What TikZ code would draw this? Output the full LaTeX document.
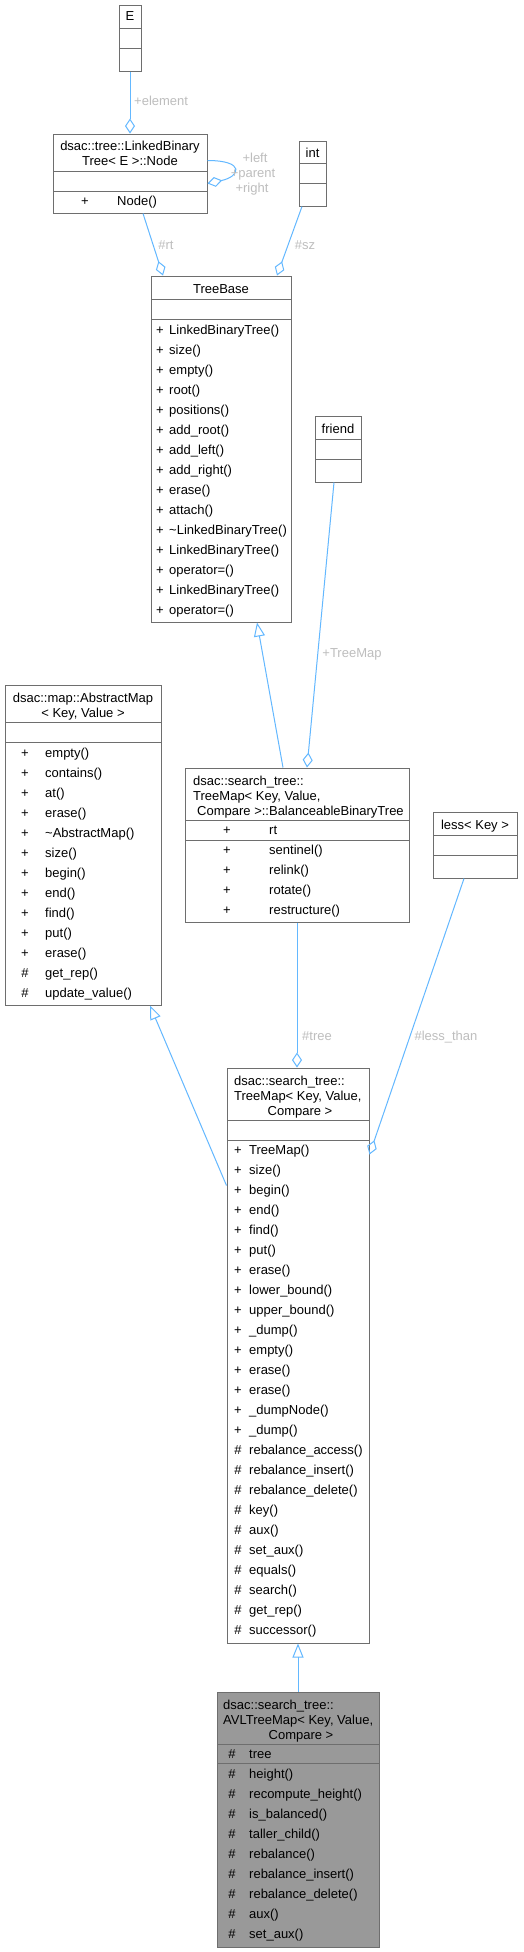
\documentclass[tikz,border=0pt]{standalone}
\usepackage{fontspec}
\setmainfont{Liberation Sans}
\usetikzlibrary{arrows.meta}
\definecolor{edgeblue}{HTML}{63B8FF}
\definecolor{boxgray}{HTML}{6E6E6E}
\definecolor{labgray}{HTML}{BEBEBE}
\definecolor{avlfill}{HTML}{999999}
\tikzset{
 umlbox/.style={draw=boxgray, line width=1pt, inner sep=0pt},
 sepline/.style={draw=boxgray, line width=1pt},
 txt/.style={inner sep=0pt, font=\fontsize{13}{15}\selectfont, text height=9.5pt, text depth=2.5pt},
 lab/.style={txt, text=labgray},
 agg/.style={draw=edgeblue, line width=1pt, -{Diamond[open,length=15pt,width=10pt]}},
 inh/.style={draw=edgeblue, line width=1pt, -{Triangle[open,length=14pt,width=11pt]}},
}
\newcommand\umlclass[8][white]{%
 \node[umlbox, fill=#1, minimum width={(#5-#3)*1pt}, minimum height={(#6-#4)*1pt}] (#2) at ({(#3+#5)/2},{(#4+#6)/2}) {};
 \draw[sepline] (#3,#7) -- (#5,#7);
 \draw[sepline] (#3,#8) -- (#5,#8);
}
\begin{document}
\begin{tikzpicture}[x=1pt,y=-1pt]
\useasboundingbox[fill=white] (0,0) rectangle (524,1952);

% ---------- classes ----------
\umlclass{clsE}{119}{5}{141}{71}{28}{48}
\node[txt] (tE) at (130,17) {E};

\umlclass{clsNode}{53}{134}{207}{213}{171}{191}
\node[txt] (tNode1) at (130,147) {dsac::tree::LinkedBinary};
\node[txt] (tNode2) at (130,162) {Tree< E >::Node};
\node[txt] (sNode) at (85,202) {+};
\node[txt,anchor=west] (mNode) at (117,202) {Node()};

\umlclass{clsInt}{299}{141}{326}{206}{163}{183}
\node[txt] (tInt) at (312.5,154) {int};

\umlclass{clsTreeBase}{151}{276}{291}{622}{299}{319}
\node[txt] (tTB) at (221,290) {TreeBase};
\foreach \t [count=\i from 0] in {LinkedBinaryTree(), size(), empty(), root(), positions(), add\_root(), add\_left(), add\_right(), erase(), attach(), \textasciitilde LinkedBinaryTree(), LinkedBinaryTree(), operator=(), LinkedBinaryTree(), operator=()}{
 \node[txt] (sTB\i) at (160,{331+20*\i}) {+};
 \node[txt,anchor=west] (mTB\i) at (169,{331+20*\i}) {\t};
}

\umlclass{clsFriend}{315}{416}{361}{482}{439}{459}
\node[txt] (tFriend) at (338,430) {friend};

\umlclass{clsAbsMap}{5}{685}{161}{1005}{722}{742}
\node[txt] (tAM1) at (83,699) {dsac::map::AbstractMap};
\node[txt] (tAM2) at (83,714) {< Key, Value >};
\foreach \s/\t [count=\i from 0] in {+/empty(), +/contains(), +/at(), +/erase(), +/\textasciitilde AbstractMap(), +/size(), +/begin(), +/end(), +/find(), +/put(), +/erase(), \#/get\_rep(), \#/update\_value()}{
 \node[txt] (sAM\i) at (25,{754+20*\i}) {\s};
 \node[txt,anchor=west] (mAM\i) at (45,{754+20*\i}) {\t};
}

\umlclass{clsBBT}{185}{768}{409}{922}{820}{840}
\node[txt,anchor=west] (tBBT1) at (193,782) {dsac::search\_tree::};
\node[txt,anchor=west] (tBBT2) at (193,797) {TreeMap< Key, Value,};
\node[txt,anchor=west] (tBBT3) at (197,812) {Compare >::BalanceableBinaryTree};
\node[txt] (sBBTa) at (227,831) {+};
\node[txt,anchor=west] (mBBTa) at (269,831) {rt};
\foreach \t [count=\i from 0] in {sentinel(), relink(), rotate(), restructure()}{
 \node[txt] (sBBT\i) at (227,{851+20*\i}) {+};
 \node[txt,anchor=west] (mBBT\i) at (269,{851+20*\i}) {\t};
}

\umlclass{clsLess}{433}{812}{517}{878}{835}{855}
\node[txt] (tLess) at (475,826) {less< Key >};

\umlclass{clsTreeMap}{227}{1068}{369}{1643}{1120}{1140}
\node[txt,anchor=west] (tTM1) at (234,1082) {dsac::search\_tree::};
\node[txt,anchor=west] (tTM2) at (234,1097) {TreeMap< Key, Value,};
\node[txt] (tTM3) at (300,1112) {Compare >};
\foreach \s/\t [count=\i from 0] in {+/TreeMap(), +/size(), +/begin(), +/end(), +/find(), +/put(), +/erase(), +/lower\_bound(), +/upper\_bound(), +/\_dump(), +/empty(), +/erase(), +/erase(), +/\_dumpNode(), +/\_dump(), \#/rebalance\_access(), \#/rebalance\_insert(), \#/rebalance\_delete(), \#/key(), \#/aux(), \#/set\_aux(), \#/equals(), \#/search(), \#/get\_rep(), \#/successor()}{
 \node[txt] (sTM\i) at (238,{1151+20*\i}) {\s};
 \node[txt,anchor=west] (mTM\i) at (249,{1151+20*\i}) {\t};
}

\umlclass[avlfill]{clsAVL}{217}{1692}{379}{1947}{1744}{1763}
\node[txt,anchor=west] (tAVL1) at (223,1706) {dsac::search\_tree::};
\node[txt,anchor=west] (tAVL2) at (223,1721) {AVLTreeMap< Key, Value,};
\node[txt] (tAVL3) at (301,1736) {Compare >};
\node[txt] (sAVLa) at (232,1755) {\#};
\node[txt,anchor=west] (mAVLa) at (249,1755) {tree};
\foreach \t [count=\i from 0] in {height(), recompute\_height(), is\_balanced(), taller\_child(), rebalance(), rebalance\_insert(), rebalance\_delete(), aux(), set\_aux()}{
 \node[txt] (sAVL\i) at (232,{1775+20*\i}) {\#};
 \node[txt,anchor=west] (mAVL\i) at (249,{1775+20*\i}) {\t};
}

% ---------- connectors ----------
\draw[agg] (clsE.south) -- (clsNode.north);
\node[lab,anchor=west] (lElement) at (134,102) {+element};

\draw[agg] ([yshift=-27pt]clsNode.north east) .. controls +(38,0) and +(33,-7) .. ([yshift=-50pt]clsNode.north east);
\node[lab] (lLeft) at (255,159) {+left};
\node[lab] (lParent) at (253,174) {+parent};
\node[lab] (lRight) at (252,189) {+right};

\draw[agg] ([xshift=13pt]clsNode.south) -- ([xshift=-58pt]clsTreeBase.north);
\node[lab] (lRt) at (166,246) {\#rt};

\draw[agg] ([xshift=-10.5pt]clsInt.south) -- ([xshift=56pt]clsTreeBase.north);
\node[lab] (lSz) at (305,246) {\#sz};

\draw[inh] ([xshift=-14pt]clsBBT.north) -- ([xshift=36pt]clsTreeBase.south);

\draw[agg] ([xshift=-4pt]clsFriend.south) -- ([xshift=10pt]clsBBT.north);
\node[lab] (lTreeMap) at (352,654) {+TreeMap};

\draw[agg] (clsBBT.south) -- (clsBBT.south |- clsTreeMap.north);
\node[lab] (lTree) at (317,1037) {\#tree};

\draw[agg] ([xshift=-11pt]clsLess.south) -- ([yshift=-87pt]clsTreeMap.north east);
\node[lab] (lLess) at (446,1037) {\#less\_than};

\draw[inh] ([yshift=-118pt]clsTreeMap.north west) -- ([xshift=67pt]clsAbsMap.south);

\draw[inh] (clsAVL.north) -- (clsAVL.north |- clsTreeMap.south);
\end{tikzpicture}
\end{document}
